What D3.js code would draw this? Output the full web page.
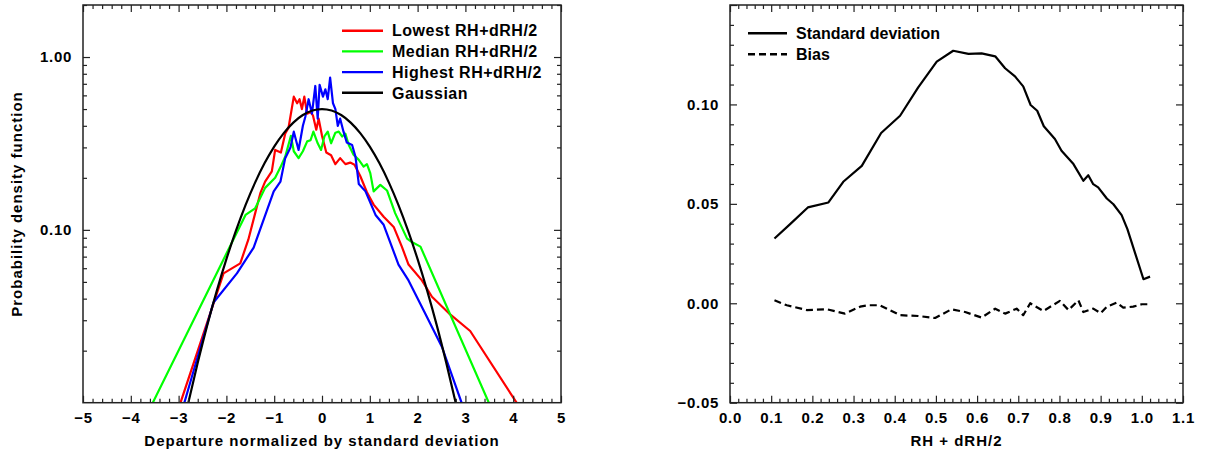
<!DOCTYPE html>
<html>
<head>
<meta charset="utf-8">
<script src="https://cdn.jsdelivr.net/npm/d3@7"></script>
<style>
    body { margin: 0; background: #fff; }
    svg { display: block; font-family: "Liberation Sans", Arial, sans-serif; font-weight: bold; }
</style>
</head>
<body>
<script>
// Left panel: pdf of normalized departures
const lowestX = [-2.96, -2.06, -1.71, -1.54, -1.29, -1.19, -1.05, -0.98, -0.86, -0.77, -0.70, -0.59, -0.52, -0.47, -0.42, -0.37, -0.31, -0.24, -0.19, -0.12, -0.07, 0.00, 0.09, 0.19, 0.28, 0.38, 0.49, 0.59, 0.68, 0.80, 0.94, 1.08, 1.29, 1.50, 1.67, 1.81, 2.09, 2.30, 2.65, 3.10, 4.07];
const lowestY = [0.010, 0.056, 0.064, 0.088, 0.163, 0.19, 0.218, 0.29, 0.28, 0.36, 0.39, 0.59, 0.54, 0.57, 0.50, 0.59, 0.47, 0.48, 0.46, 0.38, 0.44, 0.35, 0.28, 0.27, 0.24, 0.26, 0.24, 0.245, 0.238, 0.205, 0.165, 0.14, 0.119, 0.104, 0.080, 0.063, 0.051, 0.041, 0.033, 0.026, 0.010];

const medianX = [-3.54, -1.60, -1.40, -1.19, -0.98, -0.87, -0.77, -0.65, -0.59, -0.49, -0.40, -0.31, -0.24, -0.18, -0.09, -0.02, 0.05, 0.12, 0.19, 0.28, 0.35, 0.42, 0.49, 0.56, 0.66, 0.77, 0.87, 0.94, 1.01, 1.08, 1.22, 1.36, 1.53, 1.78, 1.88, 2.06, 3.49];
const medianY = [0.010, 0.122, 0.133, 0.175, 0.20, 0.23, 0.265, 0.35, 0.285, 0.26, 0.285, 0.325, 0.33, 0.37, 0.317, 0.29, 0.347, 0.37, 0.317, 0.365, 0.37, 0.347, 0.36, 0.31, 0.272, 0.254, 0.232, 0.24, 0.213, 0.167, 0.182, 0.169, 0.125, 0.089, 0.085, 0.080, 0.010];

const highestX = [-2.88, -2.27, -1.78, -1.43, -1.15, -1.01, -0.87, -0.77, -0.66, -0.59, -0.49, -0.40, -0.35, -0.28, -0.21, -0.14, -0.09, -0.05, 0.02, 0.07, 0.12, 0.17, 0.23, 0.28, 0.33, 0.38, 0.45, 0.52, 0.63, 0.70, 0.77, 0.91, 1.12, 1.29, 1.60, 1.81, 2.13, 2.51, 2.92];
const highestY = [0.010, 0.038, 0.056, 0.079, 0.13, 0.167, 0.19, 0.26, 0.30, 0.37, 0.29, 0.40, 0.45, 0.57, 0.47, 0.68, 0.44, 0.69, 0.59, 0.65, 0.57, 0.76, 0.54, 0.50, 0.40, 0.44, 0.37, 0.32, 0.31, 0.265, 0.184, 0.167, 0.122, 0.107, 0.063, 0.051, 0.034, 0.021, 0.010];

const gaussX = [-2.8, -2.6, -2.4, -2.2, -2.0, -1.8, -1.6, -1.4, -1.2, -1.0, -0.8, -0.6, -0.4, -0.2, 0.0, 0.2, 0.4, 0.6, 0.8, 1.0, 1.2, 1.4, 1.6, 1.8, 2.0, 2.2, 2.4, 2.6, 2.8];
const gaussY = [0.0099, 0.0170, 0.0281, 0.0445, 0.0677, 0.0989, 0.1390, 0.1877, 0.2434, 0.3033, 0.3631, 0.4176, 0.4616, 0.4901, 0.5, 0.4901, 0.4616, 0.4176, 0.3631, 0.3033, 0.2434, 0.1877, 0.1390, 0.0989, 0.0677, 0.0445, 0.0281, 0.0170, 0.0099];

const leftXTicks = [-5, -4, -3, -2, -1, 0, 1, 2, 3, 4, 5];
const leftYTicks = [0.1, 1];
const leftLegend = ["Lowest RH+dRH/2", "Median RH+dRH/2", "Highest RH+dRH/2", "Gaussian"];

// Right panel: statistics vs RH + dRH/2
const stdX = [0.108, 0.146, 0.189, 0.239, 0.275, 0.320, 0.367, 0.413, 0.457, 0.502, 0.542, 0.579, 0.611, 0.644, 0.668, 0.692, 0.712, 0.730, 0.746, 0.762, 0.789, 0.805, 0.834, 0.858, 0.870, 0.882, 0.894, 0.915, 0.931, 0.951, 0.965, 1.004, 1.020];
const stdY = [0.0326, 0.0398, 0.0482, 0.0507, 0.0611, 0.0691, 0.0856, 0.0943, 0.1086, 0.1215, 0.127, 0.1254, 0.1257, 0.1242, 0.1182, 0.1141, 0.1091, 0.0997, 0.0968, 0.089, 0.0826, 0.0767, 0.070, 0.0616, 0.0644, 0.0599, 0.0583, 0.0527, 0.0498, 0.0443, 0.0373, 0.0121, 0.0134];

const biasX = [0.108, 0.138, 0.186, 0.235, 0.279, 0.316, 0.336, 0.364, 0.413, 0.457, 0.498, 0.538, 0.571, 0.611, 0.644, 0.668, 0.696, 0.712, 0.729, 0.761, 0.801, 0.822, 0.846, 0.858, 0.882, 0.900, 0.915, 0.939, 0.955, 0.979, 1.000, 1.020];
const biasY = [0.0015, -0.001, -0.0034, -0.003, -0.0052, -0.0017, -0.001, -0.001, -0.006, -0.0064, -0.0074, -0.003, -0.0044, -0.0072, -0.0027, -0.0052, -0.0027, -0.006, 0.0, -0.0039, 0.0012, -0.0034, 0.0015, -0.0044, -0.0027, -0.005, -0.0017, 0.0003, -0.0022, -0.0017, -0.0005, -0.0005];

const rightXTicks = [0.0, 0.1, 0.2, 0.3, 0.4, 0.5, 0.6, 0.7, 0.8, 0.9, 1.0, 1.1];
const rightYTicks = [-0.05, 0.00, 0.05, 0.10];
const rightLegend = ["Standard deviation", "Bias"];

const width = 1232, height = 454;

const svg = d3.select("body").append("svg")
    .attr("width", width)
    .attr("height", height);

const zip = (xs, ys) => xs.map((x, i) => [x, ys[i]]);

// draws frame, inward ticks on all four sides and labels on left/bottom
function drawAxes(g, x, y, o) {
    const box = {l: x.range()[0], r: x.range()[1], t: y.range()[1], b: y.range()[0]};

    const axes = [
        [d3.axisBottom(x), `translate(0,${box.b})`, o.xMajor, o.xMinor, true],
        [d3.axisTop(x), `translate(0,${box.t})`, o.xMajor, o.xMinor, false],
        [d3.axisLeft(y), `translate(${box.l},0)`, o.yMajor, o.yMinor, true],
        [d3.axisRight(y), `translate(${box.r},0)`, o.yMajor, o.yMinor, false]
    ];
    axes.forEach(([ax, tr, major, minor, labelled], k) => {
        const horiz = k < 2;
        g.append("g")
            .attr("transform", tr)
            .call(ax.tickValues(minor).tickSize(-4).tickFormat(""))
            .call(s => s.select(".domain").remove());
        const a = g.append("g")
            .attr("transform", tr)
            .call(ax.tickValues(major).tickSize(-7)
                .tickPadding(horiz ? 10 : o.yPad)
                .tickFormat(labelled ? (horiz ? o.xFmt : o.yFmt) : ""))
            .call(s => s.select(".domain").remove());
        a.selectAll("text")
            .style("font-size", "15px")
            .style("letter-spacing", "0.7px")
            .attr("fill", "#000");
    });
    g.selectAll(".tick line").attr("stroke", "#222").attr("stroke-width", 1.2);

    g.append("rect")
        .attr("x", box.l).attr("y", box.t)
        .attr("width", box.r - box.l).attr("height", box.b - box.t)
        .attr("fill", "none")
        .attr("stroke", "#222")
        .attr("stroke-width", 1.5);
}

// ---------- left panel ----------
const xL = d3.scaleLinear().domain([-5, 5]).range([83, 561]);
const yL = d3.scaleLog().domain([0.01, 2.0]).range([402.7, 5]);

const logMinor = [];
[0.01, 0.1, 1].forEach(dec => d3.range(2, 10).forEach(k => {
    if (k * dec <= 2.0001) logMinor.push(k * dec);
}));

const gL = svg.append("g");
svg.append("clipPath").attr("id", "clipL")
    .append("rect").attr("x", 83).attr("y", 5).attr("width", 478).attr("height", 397.7);

const lineL = d3.line().x(d => xL(d[0])).y(d => yL(d[1]));

const leftSeries = [
    {data: zip(lowestX, lowestY), color: "#ff0000"},
    {data: zip(medianX, medianY), color: "#00ff00"},
    {data: zip(highestX, highestY), color: "#0000ff"},
    {data: zip(gaussX, gaussY), color: "#000000", smooth: true}
];

gL.append("g").attr("clip-path", "url(#clipL)")
    .selectAll("path")
    .data(leftSeries)
    .enter().append("path")
    .attr("d", s => (s.smooth ? lineL.curve(d3.curveMonotoneX) : lineL.curve(d3.curveLinear))(s.data))
    .attr("fill", "none")
    .attr("stroke", s => s.color)
    .attr("stroke-width", 2.2)
    .attr("stroke-linejoin", "round");

drawAxes(gL, xL, yL, {
    xMajor: leftXTicks,
    xMinor: d3.range(-5, 5.001, 0.2).filter(v => Math.abs(v - Math.round(v)) > 1e-6),
    yMajor: leftYTicks,
    yMinor: logMinor,
    xFmt: d3.format("d"),
    yFmt: d3.format(".2f"),
    yPad: 11
});

// legend
const legL = gL.append("g")
    .selectAll("g")
    .data(leftLegend)
    .enter().append("g")
    .attr("transform", (_, i) => `translate(0,${30.7 + i * 20.7})`);
legL.append("line")
    .attr("x1", 342).attr("x2", 383)
    .attr("stroke", (_, i) => leftSeries[i].color)
    .attr("stroke-width", 2.4);
legL.append("text")
    .attr("x", 392).attr("dy", "0.36em")
    .style("font-size", "16px")
    .style("letter-spacing", "0.5px")
    .text(d => d);

gL.append("text")
    .attr("x", 322).attr("y", 446)
    .style("text-anchor", "middle")
    .style("font-size", "15px")
    .style("letter-spacing", "1px")
    .text("Departure normalized by standard deviation");

gL.append("text")
    .attr("transform", "translate(22,204) rotate(-90)")
    .style("text-anchor", "middle")
    .style("font-size", "15px")
    .style("letter-spacing", "1px")
    .text("Probability density function");

// ---------- right panel ----------
const xR = d3.scaleLinear().domain([0, 1.1]).range([730, 1183]);
const yR = d3.scaleLinear().domain([-0.05, 0.15]).range([402.7, 5]);

const gR = svg.append("g");
const lineR = d3.line().x(d => xR(d[0])).y(d => yR(d[1]));

const rightSeries = [
    {data: zip(stdX, stdY), dash: null},
    {data: zip(biasX, biasY), dash: "7,4"}
];

gR.selectAll("path.series")
    .data(rightSeries)
    .enter().append("path")
    .attr("class", "series")
    .attr("d", s => lineR(s.data))
    .attr("fill", "none")
    .attr("stroke", "#000")
    .attr("stroke-width", 2.2)
    .attr("stroke-linejoin", "round")
    .attr("stroke-dasharray", s => s.dash);

drawAxes(gR, xR, yR, {
    xMajor: rightXTicks,
    xMinor: d3.range(0, 110.001, 2).filter(v => v % 10 !== 0).map(v => v / 100),
    yMajor: rightYTicks.concat([0.15]),
    yMinor: d3.range(-5, 15.001, 1).filter(v => v % 5 !== 0).map(v => v / 100),
    xFmt: d3.format(".1f"),
    yFmt: v => v > 0.12 ? "" : d3.format(".2f")(v),
    yPad: 11
});

const legR = gR.append("g")
    .selectAll("g")
    .data(rightLegend)
    .enter().append("g")
    .attr("transform", (_, i) => `translate(0,${33.3 + i * 21})`);
legR.append("line")
    .attr("x1", 748).attr("x2", 787)
    .attr("stroke", "#000")
    .attr("stroke-width", 2.4)
    .attr("stroke-dasharray", (_, i) => rightSeries[i].dash);
legR.append("text")
    .attr("x", 796).attr("dy", "0.36em")
    .style("font-size", "16px")
    .text(d => d);

gR.append("text")
    .attr("x", 956.5).attr("y", 446)
    .style("text-anchor", "middle")
    .style("font-size", "15px")
    .style("letter-spacing", "1px")
    .text("RH + dRH/2");
</script>
</body>
</html>
